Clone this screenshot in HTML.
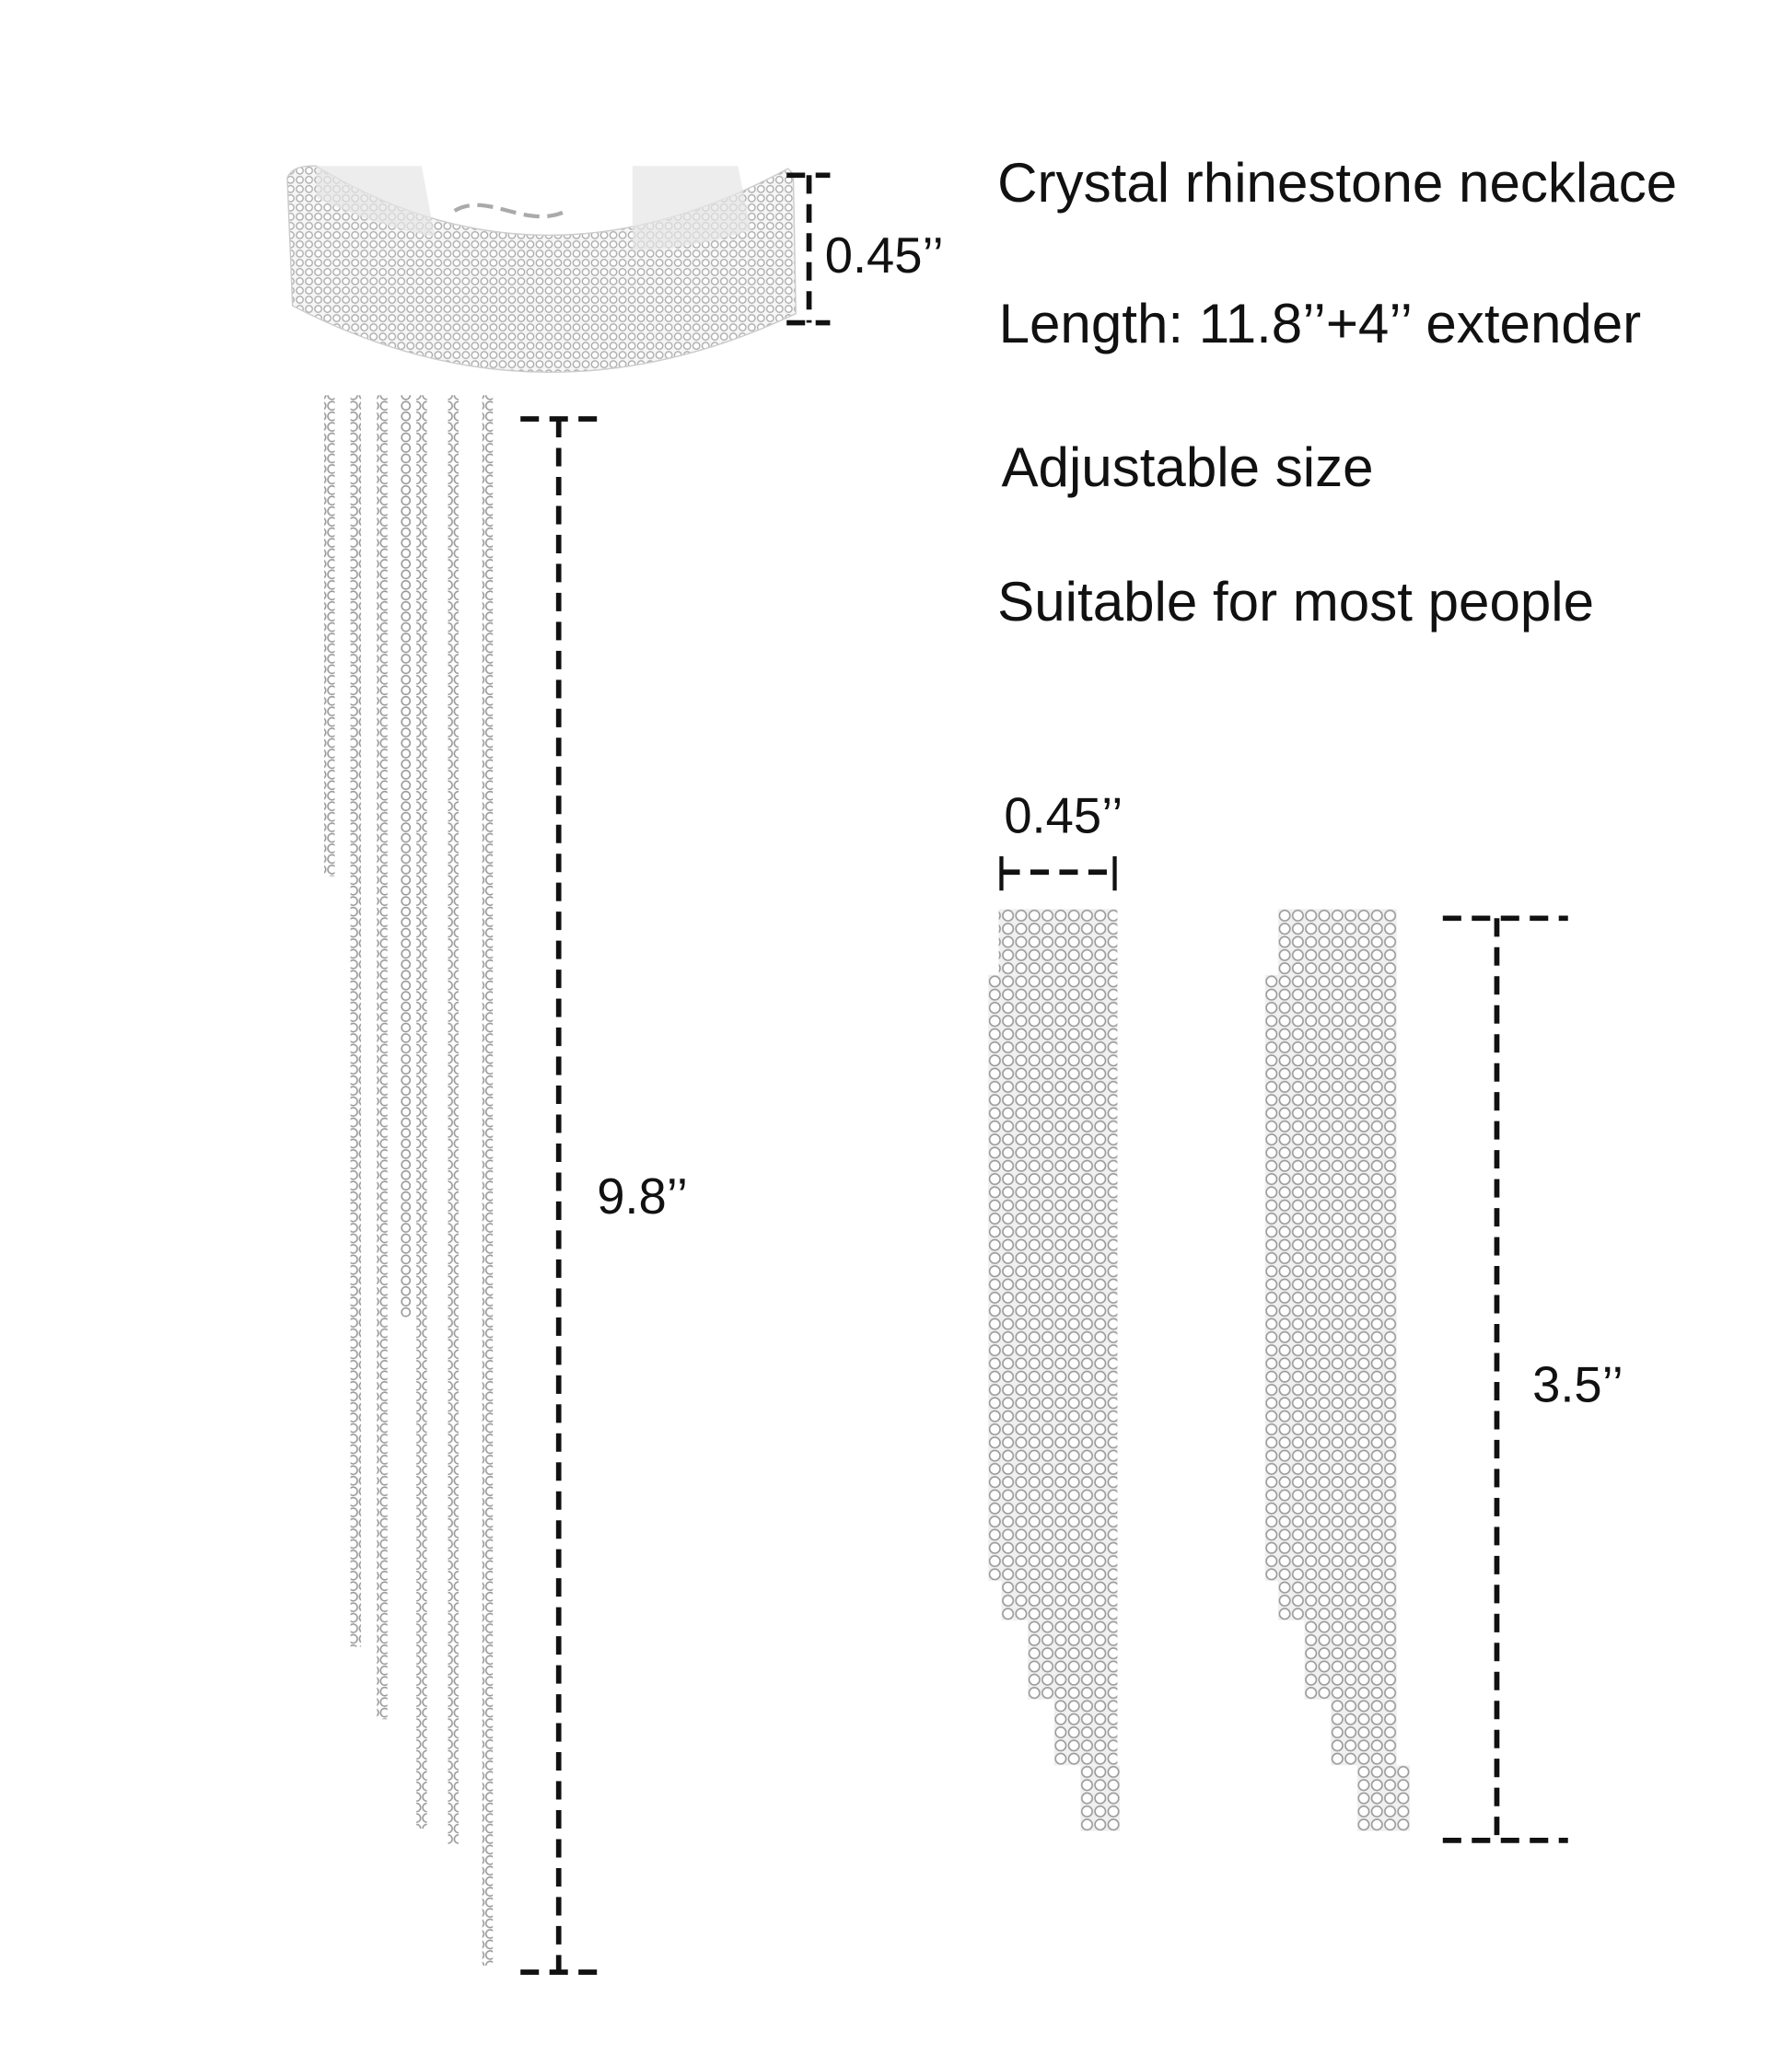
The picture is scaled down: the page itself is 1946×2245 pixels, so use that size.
<!DOCTYPE html>
<html><head><meta charset="utf-8"><style>
html,body{margin:0;padding:0;background:#fff;}
svg{display:block;}
text{font-family:"Liberation Sans",sans-serif;fill:#111;}
</style></head><body>
<svg width="1946" height="2245" viewBox="0 0 1360 1569" xmlns="http://www.w3.org/2000/svg">
<defs>
<pattern id="gem" width="7" height="7" patternUnits="userSpaceOnUse">
<rect width="7" height="7" fill="#f6f6f6"/>
<circle cx="3.5" cy="3.5" r="2.6" fill="#fff" stroke="#a8a8a8" stroke-width="0.9"/>
</pattern>
<pattern id="gem2" width="10" height="10" patternUnits="userSpaceOnUse">
<rect width="10" height="10" fill="#f0f0f0"/>
<circle cx="5" cy="5" r="4" fill="#fff" stroke="#999" stroke-width="1.1"/>
</pattern>
<pattern id="strand" width="8" height="8" patternUnits="userSpaceOnUse">
<circle cx="4" cy="4" r="3.2" fill="#fff" stroke="#999" stroke-width="1.1"/>
</pattern>
</defs>
<rect width="1360" height="1569" fill="#fff"/>

<!-- choker band -->
<path d="M218 135 Q222 125 240 126 Q410 230 598 128 L602 132 L604 238 Q410 330 222 232 Z" fill="url(#gem)" stroke="#ccc"/>
<path d="M240 126 L320 126 L330 180 Q280 170 240 150 Z" fill="#e6e6e6" opacity=".7"/>
<path d="M480 126 L560 126 L570 175 Q520 190 480 190 Z" fill="#e6e6e6" opacity=".7"/>
<path d="M170 0" />
<path d="M345 160 C370 145 400 175 430 160" fill="none" stroke="#aaa" stroke-width="3" stroke-dasharray="12 6"/>

<!-- strands -->
<rect x="246" y="300" width="8" height="365" fill="url(#strand)"/>
<rect x="266" y="300" width="8" height="950" fill="url(#strand)"/>
<rect x="286" y="300" width="8" height="1005" fill="url(#strand)"/>
<rect x="304" y="300" width="8" height="700" fill="url(#strand)"/>
<rect x="316" y="300" width="8" height="1088" fill="url(#strand)"/>
<rect x="340" y="300" width="8" height="1100" fill="url(#strand)"/>
<rect x="366" y="300" width="8" height="1192" fill="url(#strand)"/>

<!-- earrings -->
<g>
<rect x="758" y="690" width="90" height="50" fill="url(#gem2)"/>
<rect x="750" y="740" width="98" height="460" fill="url(#gem2)"/>
<rect x="760" y="1200" width="88" height="30" fill="url(#gem2)"/>
<rect x="780" y="1230" width="68" height="60" fill="url(#gem2)"/>
<rect x="800" y="1290" width="48" height="50" fill="url(#gem2)"/>
<rect x="820" y="1340" width="30" height="50" fill="url(#gem2)"/>
</g>
<g>
<rect x="970" y="690" width="90" height="50" fill="url(#gem2)"/>
<rect x="960" y="740" width="100" height="460" fill="url(#gem2)"/>
<rect x="970" y="1200" width="90" height="30" fill="url(#gem2)"/>
<rect x="990" y="1230" width="70" height="60" fill="url(#gem2)"/>
<rect x="1010" y="1290" width="50" height="50" fill="url(#gem2)"/>
<rect x="1030" y="1340" width="40" height="50" fill="url(#gem2)"/>
</g>

<!-- dimension lines -->
<g stroke="#111" stroke-width="4" fill="none" stroke-dasharray="14 8">
<line x1="597" y1="133" x2="630" y2="133"/>
<line x1="614" y1="133" x2="614" y2="245"/>
<line x1="597" y1="245" x2="630" y2="245"/>
<line x1="395" y1="318" x2="457" y2="318"/>
<line x1="424" y1="318" x2="424" y2="1497"/>
<line x1="395" y1="1497" x2="457" y2="1497"/>
<line x1="760" y1="662" x2="846" y2="662"/>
<line x1="1095" y1="697" x2="1190" y2="697"/>
<line x1="1136" y1="697" x2="1136" y2="1397"/>
<line x1="1095" y1="1397" x2="1190" y2="1397"/>
</g>
<g stroke="#111" stroke-width="3">
<line x1="760" y1="650" x2="760" y2="676"/>
<line x1="846" y1="650" x2="846" y2="676"/>
</g>

<!-- text -->
<text x="757" y="153" font-size="42">Crystal rhinestone necklace</text>
<text x="758" y="260" font-size="42">Length: 11.8’’+4’’ extender</text>
<text x="760" y="369" font-size="42">Adjustable size</text>
<text x="757" y="471" font-size="42">Suitable for most people</text>
<text x="626" y="207" font-size="38">0.45’’</text>
<text x="453" y="921" font-size="38">9.8’’</text>
<text x="762" y="632" font-size="38">0.45’’</text>
<text x="1163" y="1064" font-size="38">3.5’’</text>
</svg>
</body></html>
